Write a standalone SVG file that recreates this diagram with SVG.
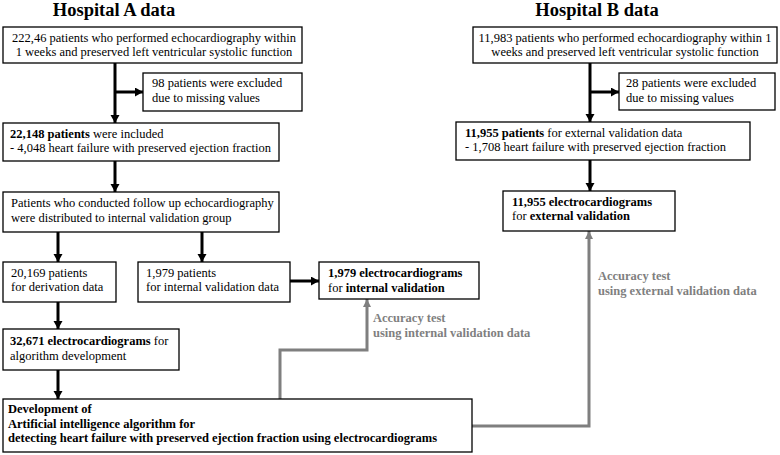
<svg xmlns="http://www.w3.org/2000/svg" width="780" height="455" viewBox="0 0 780 455" font-family="Liberation Serif, Tinos, serif" font-size="12.5">
<defs>
<marker id="ah" markerUnits="userSpaceOnUse" markerWidth="10" markerHeight="10" refX="8" refY="4.5" orient="auto">
<path d="M0,0 L8,4.5 L0,9 Z" fill="#000"/>
</marker>
<marker id="ahg" markerUnits="userSpaceOnUse" markerWidth="10" markerHeight="10" refX="8" refY="4" orient="auto">
<path d="M0,0 L8,4 L0,8 Z" fill="#7f7f7f"/>
</marker>
<style>
.box{fill:#fff;stroke:#000;stroke-width:1.3}
.title{font-size:18.5px;font-weight:bold}
.b{font-weight:bold}
.c{text-anchor:middle}
.arr{stroke:#000;stroke-width:3;fill:none;marker-end:url(#ah)}
.gar{stroke:#7f7f7f;stroke-width:3;fill:none;marker-end:url(#ahg)}
.gt{fill:#7f7f7f;font-weight:bold}
</style>
</defs>
<rect width="780" height="455" fill="#fff"/>
<text class="title c" x="114" y="16">Hospital A data</text>
<text class="title c" x="597" y="16">Hospital B data</text>

<g id="connectors">
<line class="arr" x1="115" y1="63" x2="115" y2="123"/>
<line class="arr" x1="115" y1="92" x2="143" y2="92"/>
<line class="arr" x1="115" y1="161" x2="115" y2="192"/>
<line class="arr" x1="58" y1="232" x2="58" y2="262"/>
<line class="arr" x1="202" y1="232" x2="202" y2="262"/>
<line class="arr" x1="290" y1="281" x2="319" y2="281"/>
<line class="arr" x1="58" y1="302" x2="58" y2="329"/>
<line class="arr" x1="58" y1="370" x2="58" y2="399"/>
<line class="arr" x1="590" y1="63" x2="590" y2="122"/>
<line class="arr" x1="590" y1="92" x2="619" y2="92"/>
<line class="arr" x1="590" y1="160" x2="590" y2="191"/>
<path class="gar" d="M280,399 V350 H367 V299"/>
<path class="gar" d="M472,426 H589 V231"/>
<text class="gt" x="373" y="322">Accuracy test</text>
<text class="gt" x="373" y="337">using internal validation data</text>
<text class="gt" x="598" y="280">Accuracy test</text>
<text class="gt" x="598" y="295">using external validation data</text>
</g>

<g id="a1">
<rect class="box" x="3" y="27" width="299" height="36"/>
<text class="c" x="154" y="42">222,46 patients who performed echocardiography within</text>
<text class="c" x="154" y="56">1 weeks and preserved left ventricular systolic function</text>
</g>
<g id="a_excl">
<rect class="box" x="143" y="73" width="159" height="38"/>
<text x="152" y="87">98 patients were excluded</text>
<text x="152" y="102">due to missing values</text>
</g>
<g id="a2">
<rect class="box" x="3" y="123" width="276" height="38"/>
<text x="10" y="138"><tspan class="b">22,148 patients</tspan> were included</text>
<text x="10" y="152">- 4,048 heart failure with preserved ejection fraction</text>
</g>
<g id="a3">
<rect class="box" x="3" y="192" width="276" height="40"/>
<text x="11" y="207">Patients who conducted follow up echocardiography</text>
<text x="11" y="222">were distributed to internal validation group</text>
</g>
<g id="a4">
<rect class="box" x="3" y="262" width="113" height="40"/>
<text x="11" y="277">20,169 patients</text>
<text x="11" y="291">for derivation data</text>
</g>
<g id="a5">
<rect class="box" x="138" y="262" width="152" height="40"/>
<text x="146" y="277">1,979 patients</text>
<text x="146" y="291">for internal validation data</text>
</g>
<g id="a6">
<rect class="box" x="319" y="262" width="160" height="37"/>
<text x="328" y="277" class="b">1,979 electrocardiograms</text>
<text x="328" y="292">for <tspan class="b">internal validation</tspan></text>
</g>
<g id="a7">
<rect class="box" x="3" y="329" width="176" height="41"/>
<text x="10" y="345"><tspan class="b">32,671 electrocardiograms</tspan> for</text>
<text x="10" y="360">algorithm development</text>
</g>
<g id="a8">
<rect class="box" x="3" y="399" width="469" height="53"/>
<text x="8" y="413" class="b">Development of</text>
<text x="8" y="428" class="b">Artificial intelligence algorithm for</text>
<text x="8" y="442" class="b">detecting heart failure with preserved ejection fraction using electrocardiograms</text>
</g>

<g id="b1">
<rect class="box" x="473" y="27" width="304" height="36"/>
<text class="c" x="625" y="42">11,983 patients who performed echocardiography within 1</text>
<text class="c" x="625" y="56">weeks and preserved left ventricular systolic function</text>
</g>
<g id="b_excl">
<rect class="box" x="619" y="73" width="156" height="37"/>
<text x="626" y="87">28 patients were excluded</text>
<text x="626" y="102">due to missing values</text>
</g>
<g id="b2">
<rect class="box" x="456" y="122" width="294" height="38"/>
<text x="465" y="137"><tspan class="b">11,955 patients</tspan> for external validation data</text>
<text x="465" y="151">- 1,708 heart failure with preserved ejection fraction</text>
</g>
<g id="b3">
<rect class="box" x="503" y="191" width="172" height="40"/>
<text x="512" y="206" class="b">11,955 electrocardiograms</text>
<text x="512" y="220">for <tspan class="b">external validation</tspan></text>
</g>
</svg>
